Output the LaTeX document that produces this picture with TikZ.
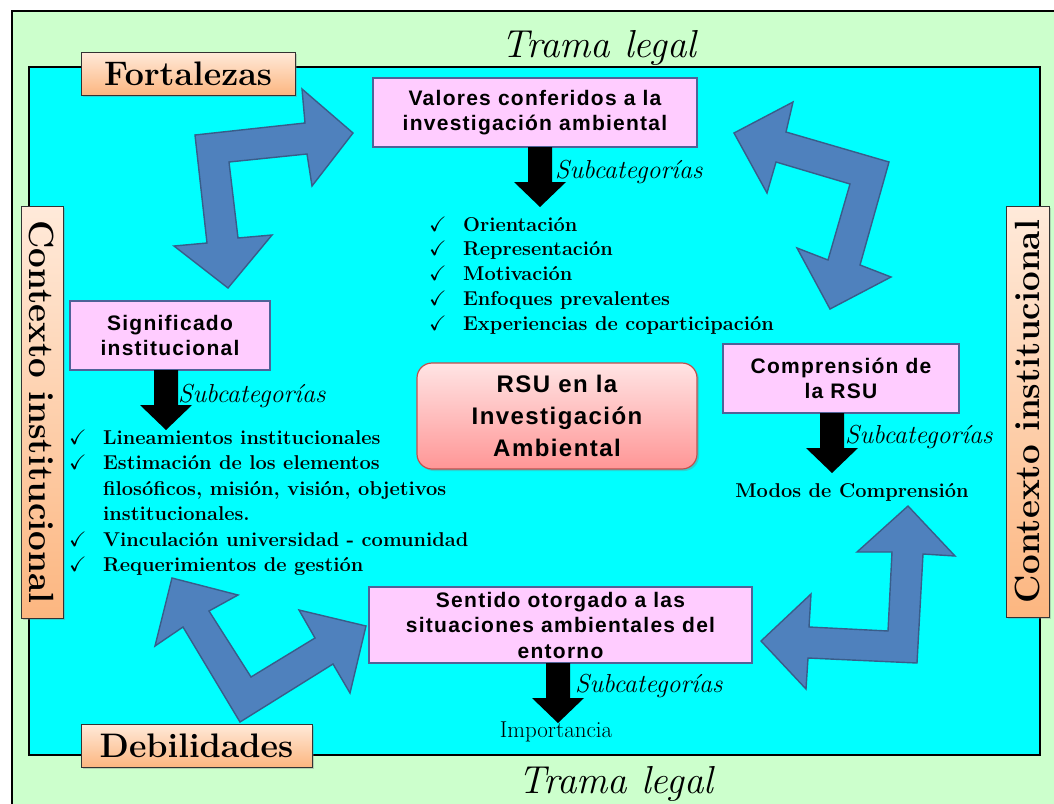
\documentclass[tikz,border=0pt]{standalone}
\usepackage{fontspec}
\usepackage{amssymb}
\usetikzlibrary{shadows,calc}
\newfontfamily\boxfont[LetterSpace=6]{Liberation Sans}
\definecolor{outergreen}{RGB}{204,255,204}
\definecolor{cyanbg}{RGB}{0,255,255}
\definecolor{pinkbox}{RGB}{255,204,255}
\definecolor{pinkborder}{RGB}{79,98,152}
\definecolor{arrowblue}{RGB}{79,129,189}
\definecolor{arrowedge}{RGB}{56,93,138}
\definecolor{peachlight}{RGB}{255,234,218}
\definecolor{peachdark}{RGB}{252,182,128}
\definecolor{rsutop}{RGB}{255,228,228}
\definecolor{rsubot}{RGB}{255,150,150}
\definecolor{rsuborder}{RGB}{192,80,77}
\begin{document}
\begin{tikzpicture}[x=1pt,y=-1pt,
 labelbox/.style={draw=black!80, line width=0.8pt, top color=peachlight, bottom color=peachdark, inner sep=0pt, font=\fontsize{34}{34}\selectfont\bfseries, drop shadow={shadow xshift=2pt,shadow yshift=-2pt,opacity=0.35}},
 catbox/.style={draw=pinkborder, fill=pinkbox, line width=1.6pt, inner sep=0pt, align=center, font=\boxfont\bfseries\fontsize{21}{25.5}\selectfont},
 bluearrow/.style={fill=arrowblue, draw=arrowedge, line width=1.4pt, line join=miter},
 subcat/.style={font=\fontsize{26}{26}\selectfont\itshape, anchor=base west, inner sep=0pt},
 item/.style={font=\fontsize{20}{25}\selectfont\bfseries, anchor=base west, inner sep=0pt},
 chk/.style={font=\fontsize{21}{21}\selectfont, anchor=base west, inner sep=0pt},
 trama/.style={font=\fontsize{39}{39}\selectfont\itshape, anchor=base, inner sep=0pt},
 blackdown/.pic={\fill[black] (-12,0) -- (12,0) -- (12,35) -- (26,35) -- (0,60) -- (-26,35) -- (-12,35) -- cycle;}
]
\useasboundingbox (0,0) rectangle (1054,803);
\clip (0,0) rectangle (1054,803);
% frames
\draw[fill=outergreen, line width=2pt] (12,11) rectangle (1075,830);
\draw[fill=cyanbg, line width=2.5pt] (29,67) rectangle (1040,755);
\node[trama] (tramatop) at (599,57) {Trama legal};
\node[trama] (tramabot) at (616,793) {Trama legal};

% blue bent arrows
\draw[bluearrow] (353,133) -- (302,89) -- (305,123) -- (195,135) -- (207,243) -- (174,246) -- (228,288) -- (272,235) -- (238,238) -- (229,162) -- (307,154) -- (312,186) -- cycle;
\draw[bluearrow] (734,133) -- (793,102) -- (786,132) -- (889,162) -- (860,265) -- (891,277) -- (830,309) -- (797,248) -- (828,260) -- (850,184) -- (776,162) -- (767,193) -- cycle;
\draw[bluearrow] (172,578) -- (238,595) -- (209,611) -- (251,677) -- (315,638) -- (299,610) -- (366,626) -- (350,693) -- (333,664) -- (240,722) -- (183,627) -- (155,646) -- cycle;
\draw[bluearrow] (908,506) -- (955,556) -- (923,554) -- (917,663) -- (808,658) -- (806,689) -- (761,641) -- (811,594) -- (809,627) -- (888,631) -- (892,552) -- (857,552) -- cycle;

% label boxes
\node[labelbox, minimum width=214, minimum height=43] (fort) at (188,73.5) {Fortalezas};
\node[labelbox, minimum width=231, minimum height=43] (deb) at (196.5,745.5) {Debilidades};
\node[labelbox, rotate=-90, minimum width=412, minimum height=42, font=\fontsize{35}{35}\selectfont\bfseries] (ctxl) at (42,412) {Contexto institucional};
\node[labelbox, rotate=90, minimum width=411, minimum height=43, font=\fontsize{35}{35}\selectfont\bfseries] (ctxr) at (1027.5,411.5) {Contexto institucional};

% category boxes
\node[catbox, minimum width=324, minimum height=69] (val) at (535,112.5) {Valores conferidos a la\\investigación ambiental};
\node[catbox, minimum width=200, minimum height=69] (sig) at (170,335.5) {Significado\\institucional};
\node[catbox, minimum width=236, minimum height=69] (comp) at (841,378.5) {Comprensión de\\la RSU};
\node[catbox, minimum width=383, minimum height=76] (sent) at (560.5,625) {Sentido otorgado a las\\situaciones ambientales del\\entorno};
\node[draw=rsuborder, line width=1.2pt, rounded corners=15pt, top color=rsutop, bottom color=rsubot, minimum width=280, minimum height=106, inner sep=0pt, align=center, font=\boxfont\bfseries\fontsize{24}{32}\selectfont, drop shadow={shadow xshift=2pt,shadow yshift=-2pt,opacity=0.35}] (rsu) at (557,416) {RSU en la\\Investigación\\Ambiental};

% black arrows
\pic at (540,147) {blackdown};
\pic at (166,370) {blackdown};
\pic at (832,413) {blackdown};
\pic at (558,663) {blackdown};

% subcategory labels
\node[subcat] (s1) at (555,178) {Subcategorías};
\node[subcat] (s2) at (178,402) {Subcategorías};
\node[subcat] (s3) at (845,443) {Subcategorías};
\node[subcat] (s4) at (575,692) {Subcategorías};

% Valores list
\foreach \y/\t in {231/Orientación, 255/Representación, 280/Motivación, 305/Enfoques prevalentes, 330/Experiencias de coparticipación}{
  \node[chk] at (429,\y) {$\checkmark$};
  \node[item] at (463,\y) {\t};
}
% Significado list
\foreach \y/\t in {444/Lineamientos institucionales, 469/Estimación de los elementos, 546/Vinculación universidad - comunidad, 571/Requerimientos de gestión}{
  \node[chk] at (69,\y) {$\checkmark$};
  \node[item] at (103,\y) {\t};
}
\node[item] (fil) at (103,495) {filosóficos, misión, visión, objetivos};
\node[item] (inst) at (103,520) {institucionales.};

\node[item, anchor=base] (modos) at (852,497) {Modos de Comprensión};
\node[anchor=base, inner sep=0pt, font=\fontsize{23}{23}\selectfont] (imp) at (556,737) {Importancia};
\end{tikzpicture}
\end{document}
